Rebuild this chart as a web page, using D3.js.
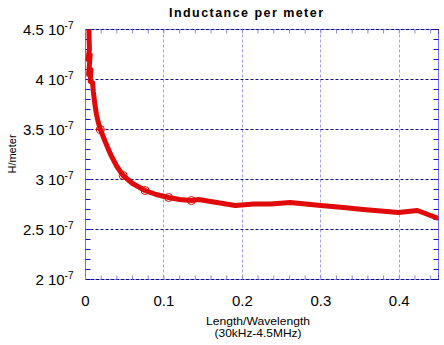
<!DOCTYPE html>
<html>
<head>
<meta charset="utf-8">
<script src="https://cdn.jsdelivr.net/npm/d3@7"></script>
<style>
  body { margin: 0; background: #fff; }
  text { font-family: "Liberation Sans", Arial, sans-serif; }
</style>
</head>
<body>
<script>
// data: length/wavelength vs inductance (units of 1e-7 H/m)
var ratio = [0.004, 0.005, 0.003, 0.006, 0.004, 0.007, 0.006, 0.009, 0.010, 0.012, 0.014, 0.016, 0.019,
  0.025, 0.032, 0.040, 0.048, 0.060, 0.076, 0.090, 0.106, 0.120, 0.135, 0.144, 0.191, 0.215, 0.236,
  0.261, 0.300, 0.329, 0.354, 0.399, 0.423, 0.450];
var inductance = [4.6, 4.3, 4.2, 4.25, 4.05, 4.1, 3.98, 3.97, 3.88, 3.75, 3.65, 3.58, 3.50,
  3.38, 3.25, 3.13, 3.04, 2.96, 2.89, 2.85, 2.82, 2.80, 2.79, 2.80, 2.74, 2.755, 2.755,
  2.77, 2.74, 2.72, 2.70, 2.67, 2.69, 2.61];
var markerIdx = [12, 16, 18, 20, 22];
var yTicks = [2, 2.5, 3, 3.5, 4, 4.5];
var yTickLabels = ["2", "2.5", "3", "3.5", "4", "4.5"];
var xTicks = [0, 0.1, 0.2, 0.3, 0.4];

var data = ratio.map(function(r, i) { return { x: r, y: inductance[i] }; });

var width = 444, height = 345;
var margin = { top: 29, right: 6, bottom: 66, left: 85 };
var w = width - margin.left - margin.right;
var h = height - margin.top - margin.bottom;

var svg = d3.select('body').append('svg')
  .attr('width', width)
  .attr('height', height);

var g = svg.append('g')
  .attr('transform', 'translate(' + (margin.left + 0.5) + ',' + (margin.top + 0.5) + ')');

var xScale = d3.scaleLinear().domain([0, 0.45]).range([0, w]);
var yScale = d3.scaleLinear().domain([2, 4.5]).range([h, 0]);

// vertical grid
g.selectAll('.vgrid')
  .data(xTicks.slice(1))
  .enter().append('line')
  .attr('x1', function(d) { return Math.round(xScale(d)); })
  .attr('x2', function(d) { return Math.round(xScale(d)); })
  .attr('y1', 0).attr('y2', h)
  .attr('stroke', '#a0a0f0')
  .attr('stroke-dasharray', '3,2');

// horizontal grid
g.selectAll('.hgrid')
  .data(yTicks)
  .enter().append('line')
  .attr('x1', 0).attr('x2', w)
  .attr('y1', function(d) { return yScale(d); })
  .attr('y2', function(d) { return yScale(d); })
  .attr('stroke', '#10108a')
  .attr('stroke-dasharray', '3,2');

// minor ticks, inside on all four sides
var yMinor = d3.range(20, 46).map(function(d) { return d / 10; });
var xMinor = d3.range(0, 23).map(function(d) { return d * 0.02; }).filter(function(d) { return d <= 0.45; });

g.append('g')
  .call(d3.axisLeft(yScale).tickValues(yMinor).tickSize(-5).tickFormat('').offset(0))
  .call(function(a) { a.select('.domain').attr('stroke', '#7070ff'); a.selectAll('.tick line').attr('stroke', '#1010c0'); });

g.append('g')
  .attr('transform', 'translate(' + w + ',0)')
  .call(d3.axisRight(yScale).tickValues(yMinor).tickSize(-5).tickFormat('').offset(0))
  .call(function(a) { a.select('.domain').attr('stroke', '#7070ff'); a.selectAll('.tick line').attr('stroke', '#1010c0'); });

g.append('g')
  .attr('transform', 'translate(0,' + h + ')')
  .call(d3.axisBottom(xScale).tickValues(xMinor).tickSize(-4).tickFormat('').offset(0))
  .call(function(a) { a.select('.domain').attr('stroke', '#10108a').attr('stroke-dasharray', '3,2'); a.selectAll('.tick line').attr('stroke', '#8a8ae0'); });

g.append('g')
  .call(d3.axisTop(xScale).tickValues(xMinor).tickSize(-4).tickFormat('').offset(0))
  .call(function(a) { a.select('.domain').attr('stroke', '#10108a').attr('stroke-dasharray', '3,2'); a.selectAll('.tick line').attr('stroke', '#8a8ae0'); });

// y tick labels "N 10^-7"
var yl = g.selectAll('.ylab')
  .data(yTicks)
  .enter().append('text')
  .attr('x', -12)
  .attr('y', function(d) { return yScale(d) + 5; })
  .attr('text-anchor', 'end')
  .attr('font-size', 15)
  .attr('fill', '#000');
yl.append('tspan').text(function(d, i) { return yTickLabels[i] + ' 10'; });
yl.append('tspan').attr('dy', -6).attr('font-size', 10).text('-7');

// x tick labels
g.selectAll('.xlab')
  .data(xTicks)
  .enter().append('text')
  .attr('x', function(d) { return xScale(d); })
  .attr('y', h + 26)
  .attr('text-anchor', 'middle')
  .attr('font-size', 15)
  .attr('fill', '#000')
  .text(function(d) { return d === 0 ? '0' : d3.format('.1f')(d); });

// clip
svg.append('clipPath').attr('id', 'clip')
  .append('rect').attr('width', w).attr('height', h);

var plot = g.append('g').attr('clip-path', 'url(#clip)');

plot.append('path')
  .datum(data)
  .attr('d', d3.line()
    .x(function(d) { return xScale(d.x); })
    .y(function(d) { return yScale(d.y); }))
  .attr('stroke', '#e00a0a')
  .attr('stroke-width', 5)
  .attr('stroke-linejoin', 'round')
  .attr('fill', 'none');

plot.selectAll('.mk')
  .data(markerIdx.map(function(i) { return data[i]; }))
  .enter().append('circle')
  .attr('cx', function(d) { return xScale(d.x); })
  .attr('cy', function(d) { return yScale(d.y); })
  .attr('r', 4)
  .attr('fill', 'none')
  .attr('stroke', '#e00a0a')
  .attr('stroke-width', 1);

// titles
svg.append('text')
  .attr('x', 246)
  .attr('y', 17)
  .attr('text-anchor', 'middle')
  .attr('font-size', 12.5)
  .attr('font-weight', 'bold')
  .attr('textLength', 154)
  .attr('lengthAdjust', 'spacing')
  .text('Inductance  per  meter');

svg.append('text')
  .attr('x', 258)
  .attr('y', 325)
  .attr('text-anchor', 'middle')
  .attr('font-size', 11)
  .attr('textLength', 104)
  .attr('lengthAdjust', 'spacingAndGlyphs')
  .text('Length/Wavelength');

svg.append('text')
  .attr('x', 258)
  .attr('y', 337)
  .attr('text-anchor', 'middle')
  .attr('font-size', 11)
  .attr('textLength', 87)
  .attr('lengthAdjust', 'spacingAndGlyphs')
  .text('(30kHz-4.5MHz)');

svg.append('text')
  .attr('transform', 'translate(16,' + (margin.top + h / 2) + ') rotate(-90)')
  .attr('text-anchor', 'middle')
  .attr('font-size', 11)
  .text('H/meter');
</script>
</body>
</html>
